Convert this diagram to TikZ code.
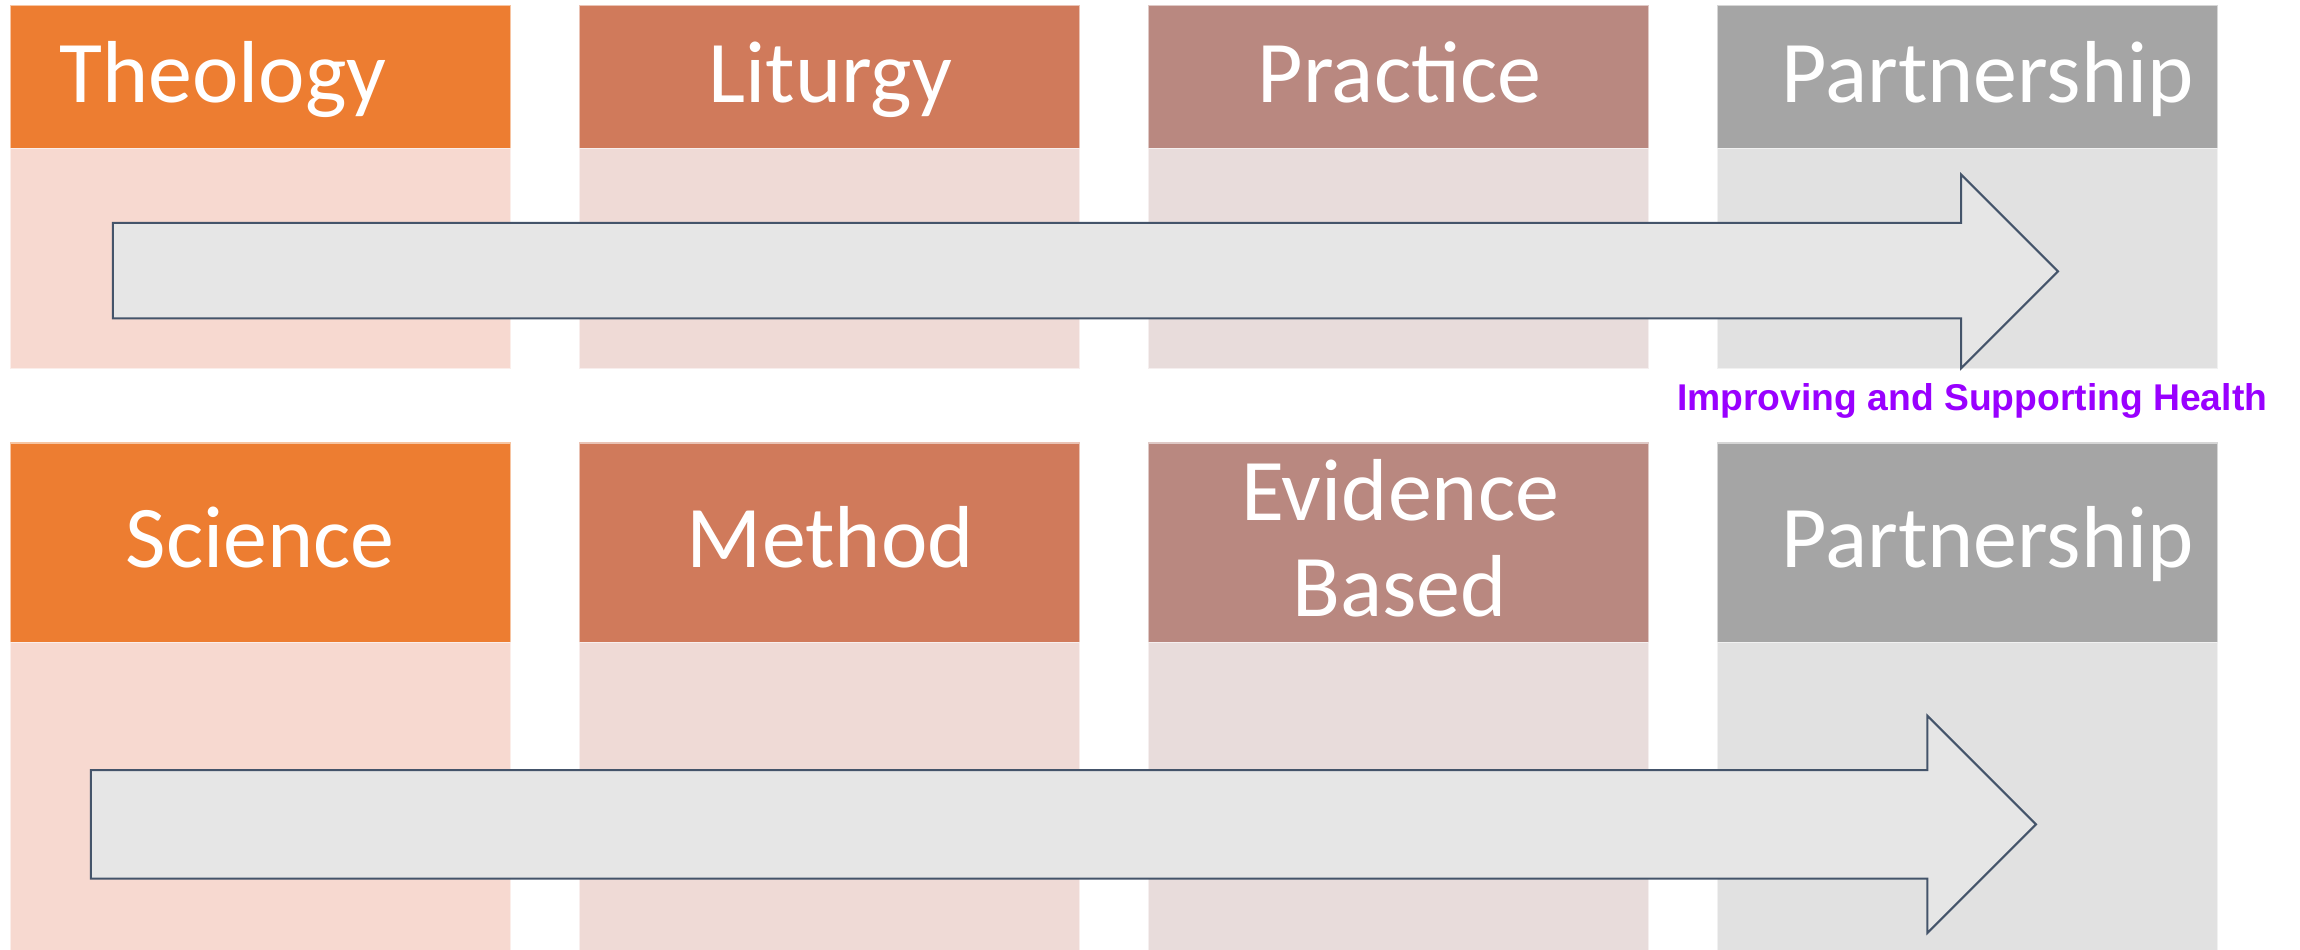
\documentclass[tikz,border=0pt]{standalone}
\usepackage{fontspec}
\setmainfont{Carlito}
\newfontfamily\labfont{Liberation Sans}
\definecolor{hA}{HTML}{ED7D31}
\definecolor{hB}{HTML}{D07A5B}
\definecolor{hC}{HTML}{B98880}
\definecolor{hD}{HTML}{A5A5A5}
\definecolor{bA}{HTML}{F7D9D0}
\definecolor{bB}{HTML}{EFDAD6}
\definecolor{bC}{HTML}{E8DCDB}
\definecolor{bD}{HTML}{E1E1E1}
\definecolor{arrfill}{HTML}{E6E6E6}
\definecolor{arrline}{HTML}{44546A}
\definecolor{lab}{HTML}{9900FF}
\tikzset{
  hdrtext/.style={text=white, inner sep=0pt, anchor=base, font=\fontsize{60}{65.5}\selectfont},
  bigarrow/.style={fill=arrfill, draw=arrline, line width=1.4pt, line join=miter},
  labtext/.style={text=lab, inner sep=0pt, anchor=base, font=\labfont\bfseries\fontsize{25.4}{30}\selectfont}
}
\begin{document}
\begin{tikzpicture}[x=1pt,y=-1pt]
\useasboundingbox (0,0) rectangle (1568,647);
\fill[white] (0,0) rectangle (1568,647);
% columns
\foreach \x/\h/\b in {7/hA/bA, 395/hB/bB, 783/hC/bC, 1171/hD/bD}{
  \fill[\h] (\x,4) rectangle ++(341,97);
  \fill[\b] (\x,101) rectangle ++(341,150);
  \draw[white!55!\h, line width=0.8pt] (\x,4) rectangle ++(341,97);
  \draw[white!55!\b, line width=0.8pt] (\x,101) rectangle ++(341,150);
  \fill[\h] (\x,302) rectangle ++(341,136);
  \fill[\b] (\x,438) rectangle ++(341,215);
  \draw[white!55!\h, line width=0.8pt] (\x,302) rectangle ++(341,136);
  \draw[white!55!\b, line width=0.8pt] (\x,438) -- ++(0,215) (\x+341,438) -- ++(0,215) (\x,438) -- ++(341,0);
}
% arrows
\draw[bigarrow] (77,152) -- (1337,152) -- (1337,119) -- (1403,185) -- (1337,251) -- (1337,217) -- (77,217) -- cycle;
\draw[bigarrow] (62,525) -- (1314,525) -- (1314,488) -- (1388,562) -- (1314,636) -- (1314,599) -- (62,599) -- cycle;
% header texts row 1
\node[hdrtext] (theo) at (152,70) {Theology};
\node[hdrtext] (litu) at (566,70) {Liturgy};
\node[hdrtext] (prac) at (954,70) {Practice};
\node[hdrtext] (part1) at (1355,70) {Partnership};
% label
\node[labtext] (health) at (1344.5,280) {Improving and Supporting Health};
% header texts row 2
\node[hdrtext] (sci) at (177.5,387) {Science};
\node[hdrtext] (meth) at (566,387) {Method};
\node[hdrtext] (evid) at (954.5,355) {Evidence};
\node[hdrtext] (based) at (954,420) {Based};
\node[hdrtext] (part2) at (1355,387) {Partnership};
\end{tikzpicture}
\end{document}
